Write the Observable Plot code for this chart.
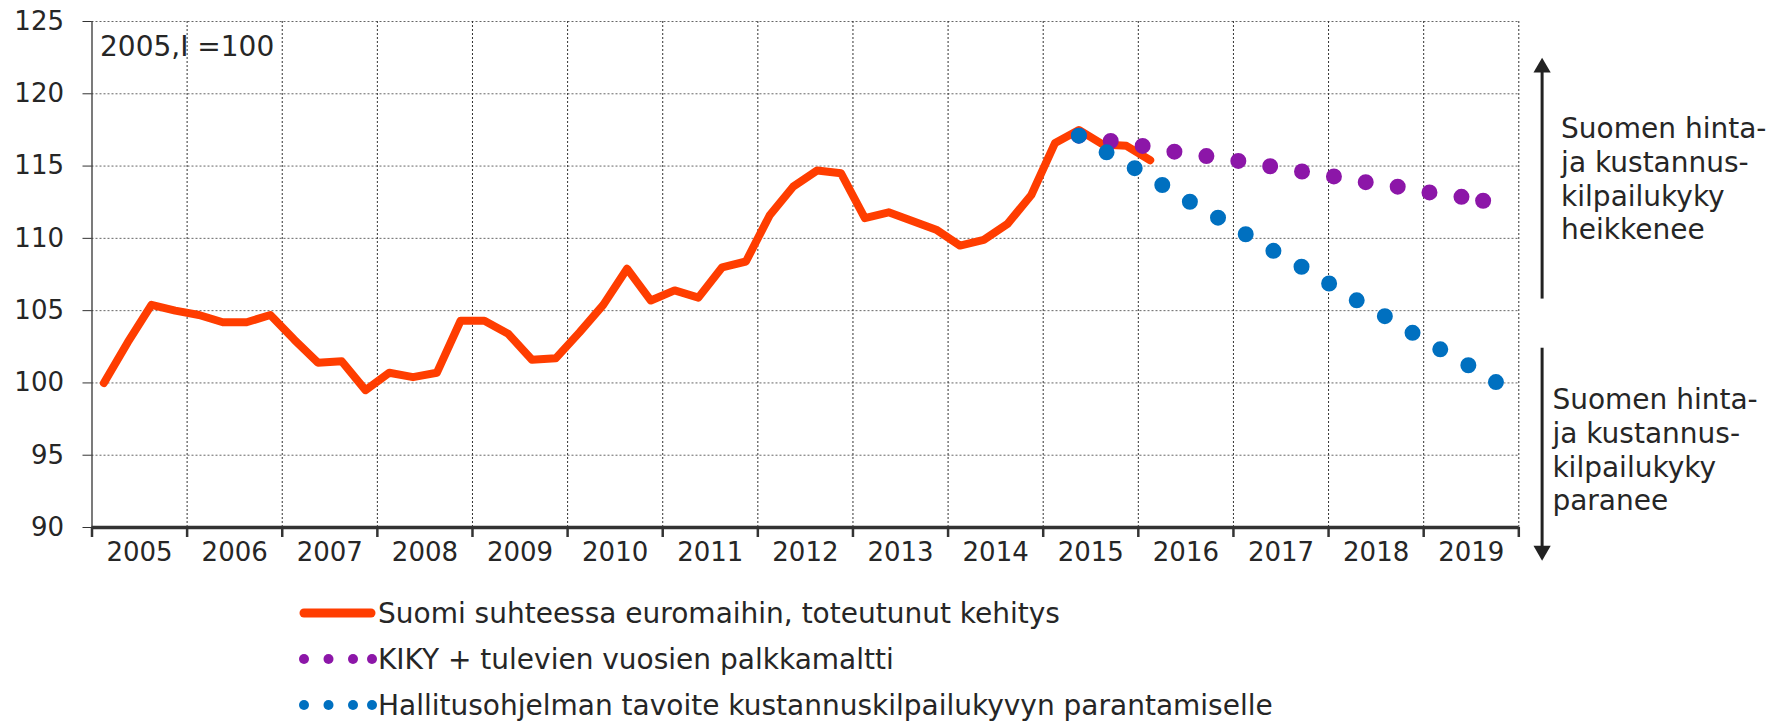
<!DOCTYPE html>
<html><head><meta charset="utf-8">
<script src="https://cdn.jsdelivr.net/npm/d3@7"></script>
<script src="https://cdn.jsdelivr.net/npm/@observablehq/plot@0.6"></script>
<style>
body{margin:0;background:#fff;font-family:"DejaVu Sans",Verdana,sans-serif;}
#chart{width:1769px;height:585px}
#legend{padding-top:5px;margin-left:299px}
.row{display:flex;align-items:center;height:46px;font-size:28px;color:#262626;white-space:nowrap}
.row svg{width:79px;height:20px;flex:none}
</style></head><body>
<div id="chart"></div>
<div id="legend"></div>
<script>
// ---- data ----
const firstYear = 2005;           // quarterly data start: 2005 Q1
const actualValues = [100.0, 102.8, 105.4, 105.0, 104.7, 104.2, 104.2, 104.7, 103.0, 101.4, 101.5, 99.5,
  100.7, 100.4, 100.7, 104.3, 104.3, 103.4, 101.6, 101.7, 103.5, 105.4, 107.9, 105.7,
  106.4, 105.9, 108.0, 108.4, 111.6, 113.6, 114.7, 114.5, 111.4, 111.8, 111.2, 110.6,
  109.5, 109.9, 111.0, 113.0, 116.6, 117.5, 116.5, 116.4, 115.4];          // 2005Q1–2016Q1
const projStartQuarter = 41;     // 2015 Q2
const kikyValues = [117.1, 116.8, 116.6, 116.3, 116.0, 115.8, 115.5, 115.3, 115.0, 114.7, 114.5, 114.2,
  113.9, 113.7, 113.4, 113.1, 112.9, 112.6];                               // 2015Q2–2019Q3
const targetValues = [117.1, 116.1, 115.2, 114.2, 113.2, 112.2, 111.3, 110.3, 109.3, 108.4, 107.4, 106.4,
  105.4, 104.5, 103.5, 102.5, 101.6, 100.6, 99.6];                          // 2015Q2–2019Q4
const yearLabels = [2005, 2006, 2007, 2008, 2009, 2010, 2011, 2012, 2013, 2014, 2015, 2016, 2017, 2018, 2019];
const yTicks = [90, 95, 100, 105, 110, 115, 120, 125];
const seriesNames = ["Suomi suhteessa euromaihin, toteutunut kehitys", "KIKY + tulevien vuosien palkkamaltti", "Hallitusohjelman tavoite kustannuskilpailukyvyn parantamiselle"];
const seriesColors = ["#ff3d00", "#8c16a8", "#0070c0"];
const baseNote = "2005,I =100";
const upText = "Suomen hinta-\nja kustannus-\nkilpailukyky\nheikkenee";
const downText = "Suomen hinta-\nja kustannus-\nkilpailukyky\nparanee";

// ---- build tables ----
const qx = i => firstYear + (i + 0.5) / 4;
const actual = actualValues.map((v, i) => ({x: qx(i), y: v}));
const kiky = kikyValues.map((v, i) => ({x: qx(projStartQuarter + i), y: v}));
const target = targetValues.map((v, i) => ({x: qx(projStartQuarter + i), y: v}));
const lastYear = yearLabels[yearLabels.length - 1] + 1;
const bounds = d3.range(firstYear, lastYear + 1);
const yMin = yTicks[0], yMax = yTicks[yTicks.length - 1];
const font = "DejaVu Sans, Verdana, sans-serif";

const chart = Plot.plot({
  width: 1769, height: 585,
  marginLeft: 91.5, marginRight: 250.7, marginTop: 21, marginBottom: 58,
  x: {domain: [firstYear, lastYear], axis: null},
  y: {domain: [yMin, yMax], axis: null},
  style: {fontFamily: font, fontSize: "26px", color: "#262626", background: "white", overflow: "visible"},
  marks: [
    Plot.ruleY(yTicks.filter(d => d > yMin), {stroke: "#666", strokeDasharray: "2,2", strokeWidth: 1}),
    Plot.ruleX(bounds.slice(1), {y1: yMin, y2: yMax, stroke: "#333", strokeDasharray: "2,2", strokeWidth: 1}),
    Plot.ruleX([firstYear], {y1: yMin, y2: yMax, stroke: "#333", strokeWidth: 1.3}),
    Plot.axisY({ticks: yTicks, tickSize: 9, tickPadding: 19, fontSize: 26, stroke: "#333", label: null, tickFormat: d => d}),
    Plot.ruleY([yMin], {stroke: "#333", strokeWidth: 3.5}),
    Plot.axisX({ticks: bounds, tickSize: 10, stroke: "#333", strokeWidth: 2.5, tickFormat: () => "", label: null}),
    Plot.axisX({ticks: yearLabels.map(d => d + 0.5), tickSize: 0, tickPadding: 15, fontSize: 26, tickFormat: d => String(Math.floor(d)), label: null}),
    Plot.text([baseNote], {frameAnchor: "top-left", dx: 8, dy: 14.5, fontSize: 28, textAnchor: "start", lineAnchor: "top", fill: "#262626"}),
    // series
    Plot.line(actual, {x: "x", y: "y", stroke: seriesColors[0], strokeWidth: 8, strokeLinejoin: "round", strokeLinecap: "round"}),
    Plot.line(kiky, {x: "x", y: "y", stroke: seriesColors[1], strokeWidth: 16, strokeDasharray: "0,32.3", strokeLinecap: "round"}),
    Plot.dot(kiky, Plot.selectLast({x: "x", y: "y", r: 8, fill: seriesColors[1]})),
    Plot.line(target, {x: "x", y: "y", stroke: seriesColors[2], strokeWidth: 16, strokeDasharray: "0,32.3", strokeLinecap: "round"}),
    // side arrows and notes
    Plot.ruleX([lastYear], {y1: 105.8, y2: 121.8, dx: 23.3, stroke: "#222", strokeWidth: 3}),
    Plot.dot([lastYear], {x: d => d, y: 122.5, dx: 23.3, dy: 10, symbol: "triangle", r: 6.4, fill: "#222"}),
    Plot.ruleX([lastYear], {y1: 102.4, y2: 88.4, dx: 23.3, stroke: "#222", strokeWidth: 3}),
    Plot.dot([lastYear], {x: d => d, y: 87.7, dx: 23.3, dy: -10, symbol: "triangle", rotate: 180, r: 6.4, fill: "#222"}),
    Plot.text([upText], {x: lastYear, y: 118.56, dx: 42.3, fontSize: 28, textAnchor: "start", lineAnchor: "top", lineHeight: 1.2, fill: "#262626"}),
    Plot.text([downText], {x: lastYear, y: 99.82, dx: 33.6, fontSize: 28, textAnchor: "start", lineAnchor: "top", lineHeight: 1.2, fill: "#262626"})
  ]
});
document.getElementById("chart").appendChild(chart);

// legend
const leg = d3.select("#legend");
seriesNames.forEach((name, k) => {
  const row = leg.append("div").attr("class", "row");
  const s = row.append("svg").attr("viewBox", "0 0 79 20");
  if (k === 0) {
    s.append("line").attr("x1", 5).attr("x2", 72).attr("y1", 10).attr("y2", 10)
      .attr("stroke", seriesColors[k]).attr("stroke-width", 9).attr("stroke-linecap", "round");
  } else {
    [5, 29.5, 54, 73].forEach(cx => s.append("circle").attr("cx", cx).attr("cy", 10).attr("r", 5).attr("fill", seriesColors[k]));
  }
  row.append("span").text(name);
});
</script>
</body></html>
